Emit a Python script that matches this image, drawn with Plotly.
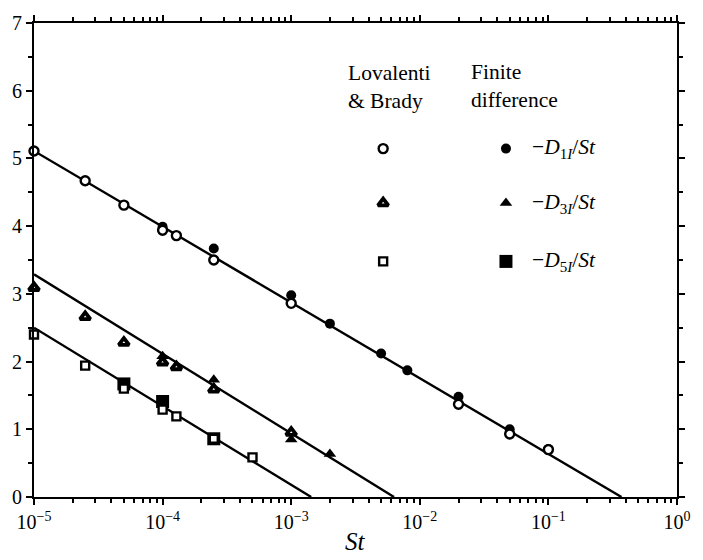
import plotly.graph_objects as go

# Lovalenti & Brady (open symbols)
lb1_st = [1e-5, 2.5e-5, 5e-5, 1e-4, 1.28e-4, 2.5e-4, 1e-3, 2e-2, 5e-2, 1e-1]
lb1_val = [5.11, 4.67, 4.31, 3.94, 3.86, 3.50, 2.86, 1.37, 0.93, 0.70]
lb3_st = [1e-5, 2.5e-5, 5e-5, 1e-4, 1.28e-4, 2.5e-4, 1e-3]
lb3_val = [3.09, 2.66, 2.28, 1.99, 1.92, 1.59, 0.95]
lb5_st = [1e-5, 2.5e-5, 5e-5, 1e-4, 1.28e-4, 2.5e-4, 5e-4]
lb5_val = [2.40, 1.94, 1.60, 1.29, 1.19, 0.86, 0.585]

# Finite difference (filled symbols)
fd1_st = [1e-4, 2.5e-4, 1e-3, 2e-3, 5e-3, 8e-3, 2e-2, 5e-2, 1e-1]
fd1_val = [3.99, 3.67, 2.98, 2.56, 2.12, 1.87, 1.48, 1.00, 0.71]
fd3_st = [1e-4, 2.5e-4, 1e-3, 2e-3]
fd3_val = [2.08, 1.73, 0.85, 0.635]
fd5_st = [5e-5, 1e-4, 2.5e-4]
fd5_val = [1.67, 1.41, 0.86]

# Asymptotic straight lines (end points)
asym1_st = [1e-5, 0.37]
asym1_val = [5.11, 0.0]
asym3_st = [1e-5, 6.3e-3]
asym3_val = [3.29, 0.0]
asym5_st = [1e-5, 1.43e-3]
asym5_val = [2.50, 0.0]

major_ticks = [1e-5, 1e-4, 1e-3, 1e-2, 1e-1, 1e0]
major_text = ["10<sup>−5</sup>", "10<sup>−4</sup>", "10<sup>−3</sup>",
              "10<sup>−2</sup>", "10<sup>−1</sup>", "10<sup>0</sup>"]
minor_ticks = [m * 10.0 ** e for e in range(-5, 0) for m in range(2, 10)]

legend_headers = ["Lovalenti<br>& Brady", "Finite<br>difference"]
legend_labels = ["−<i>D</i><sub>1<i>I</i></sub>/<i>St</i>",
                 "−<i>D</i><sub>3<i>I</i></sub>/<i>St</i>",
                 "−<i>D</i><sub>5<i>I</i></sub>/<i>St</i>"]

FONT = "'Liberation Serif', 'Times New Roman', 'DejaVu Serif', serif"

fig = go.Figure()

for xs, ys in [(asym1_st, asym1_val), (asym3_st, asym3_val), (asym5_st, asym5_val)]:
    fig.add_trace(go.Scatter(x=xs, y=ys, mode="lines",
                             line=dict(color="black", width=2.4), cliponaxis=False))

filled = dict(color="black", line=dict(color="black", width=0))


def open_style(width):
    return dict(color="white", line=dict(color="black", width=width))


fd_series = [
    (fd1_st, fd1_val, "circle", 10),
    (fd3_st, fd3_val, "triangle-up", 11),
    (fd5_st, fd5_val, "square", 13),
]
lb_series = [
    (lb1_st, lb1_val, "circle", 9, 2.4),
    (lb3_st, lb3_val, "triangle-up", 9, 3.8),
    (lb5_st, lb5_val, "square", 8, 2.4),
]
for xs, ys, sym, sz in fd_series:
    fig.add_trace(go.Scatter(x=xs, y=ys, mode="markers", cliponaxis=False,
                             marker=dict(symbol=sym, size=sz, **filled)))
for xs, ys, sym, sz, lw in lb_series:
    fig.add_trace(go.Scatter(x=xs, y=ys, mode="markers", cliponaxis=False,
                             marker=dict(symbol=sym, size=sz, **open_style(lw))))

# Key symbols drawn on an overlay unit axis
key_rows = [0.735, 0.620, 0.497]
lb_key_x = 0.543
fd_key_x = 0.734
for (xs, ys, sym, sz, lw), ky in zip(lb_series, key_rows):
    fig.add_trace(go.Scatter(x=[lb_key_x], y=[ky], mode="markers", xaxis="x2", yaxis="y2",
                             marker=dict(symbol=sym, size=sz, **open_style(lw))))
for (xs, ys, sym, sz), ky in zip(fd_series, key_rows):
    fig.add_trace(go.Scatter(x=[fd_key_x], y=[ky], mode="markers", xaxis="x2", yaxis="y2",
                             marker=dict(symbol=sym, size=sz, **filled)))

annotations = [
    dict(x=0.485, y=0.866, text=legend_headers[0]),
    dict(x=0.676, y=0.868, text=legend_headers[1]),
]
for lab, ky in zip(legend_labels, key_rows):
    annotations.append(dict(x=0.772, y=ky, text=lab))
for a in annotations:
    a.update(xref="paper", yref="paper", xanchor="left", yanchor="middle",
             showarrow=False, align="left",
             font=dict(family=FONT, size=21.5, color="black"))
annotations.append(dict(x=0.5, y=-0.062, xref="paper", yref="paper",
                        xanchor="center", yanchor="top", showarrow=False,
                        text="<i>St</i>", font=dict(family=FONT, size=25, color="black")))

fig.update_layout(
    width=703, height=560,
    margin=dict(l=33, r=16, t=15, b=63),
    paper_bgcolor="white", plot_bgcolor="white",
    showlegend=False,
    font=dict(family=FONT, size=19, color="black"),
    annotations=annotations,
    xaxis=dict(type="log", range=[-5, 0], tickmode="array",
               tickvals=major_ticks, ticktext=major_text,
               ticks="outside", ticklen=6, tickwidth=2, tickcolor="black",
               minor=dict(tickmode="array", tickvals=minor_ticks, ticks="outside",
                          ticklen=4, tickwidth=1.5, tickcolor="black"),
               showline=True, linewidth=2, linecolor="black", mirror="allticks",
               showgrid=False, zeroline=False,
               tickfont=dict(family=FONT, size=20)),
    yaxis=dict(range=[0, 7], dtick=1, ticks="outside", ticklen=6, tickwidth=2,
               tickcolor="black",
               minor=dict(dtick=0.5, ticks="outside", ticklen=4, tickwidth=1.5,
                          tickcolor="black"),
               showline=True, linewidth=2, linecolor="black", mirror="allticks",
               showgrid=False, zeroline=False,
               tickfont=dict(family=FONT, size=20)),
    xaxis2=dict(overlaying="x", range=[0, 1], visible=False, fixedrange=True),
    yaxis2=dict(overlaying="y", range=[0, 1], visible=False, fixedrange=True),
)

fig.write_html("out.html")
